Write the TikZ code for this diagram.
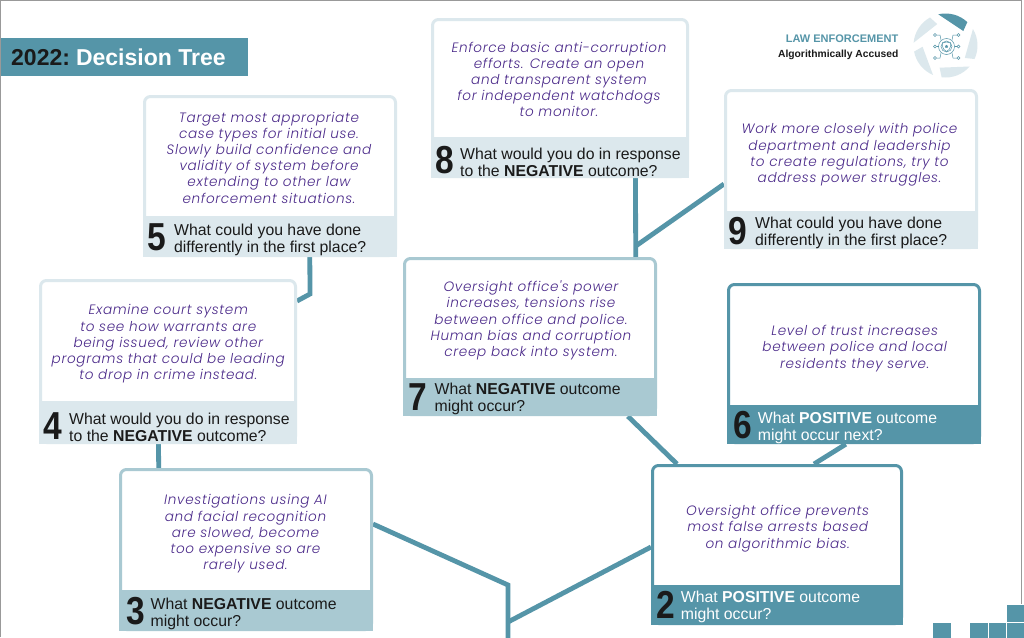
\documentclass[tikz,border=0pt]{standalone}
\usepackage{fontspec}
\setmainfont{Liberation Sans}
\newfontfamily\bodyfont{Poppins}[UprightFont=*-Light,ItalicFont=*-LightItalic,BoldFont=*-Regular,LetterSpace=4.8]
\usetikzlibrary{calc,backgrounds,shapes.geometric}
\definecolor{teal}{HTML}{5595A8}
\definecolor{midb}{HTML}{A9C9D2}
\definecolor{pale}{HTML}{DCE8ED}
\definecolor{ink}{HTML}{1A1A1A}
\definecolor{plum}{HTML}{4B2A8A}
\tikzset{
  x=1pt,y=-1pt,
  conn/.style={draw=teal,line width=4.8pt,line join=miter},
  card/.style={rectangle,rounded corners=6pt,line width=3pt,inner sep=0pt,fill=white},
  foot/.style={rectangle,inner sep=0pt},
  numlab/.style={font=\fontsize{39}{39}\selectfont\bfseries,text=ink,inner sep=0pt,anchor=center},
  qlab/.style={font=\fontsize{15.8}{17}\selectfont,text=ink,align=left,anchor=west,inner sep=0pt},
  qwhite/.style={qlab,text=white},
  bodylab/.style={font=\bodyfont\itshape\fontsize{13.6}{16.2}\selectfont,text=plum,align=center,inner sep=0pt,anchor=center},
  tile/.style={rectangle,fill=teal,draw=white,line width=0.4pt,inner sep=0pt,minimum width=18.5pt,minimum height=18.5pt,anchor=north west},
  logoline/.style={draw=teal,line width=0.5pt},
  logodot/.style={circle,draw=teal,line width=0.5pt,fill=white,inner sep=0pt,minimum size=3pt},
}
\newcommand{\numtxt}[1]{\scalebox{0.86}[1]{#1}}
% name, x1,y1,x2,ysplit,y2, border colour, foot colour
\newcommand{\qcard}[8]{%
  \node[card,draw=#7,minimum width={#4-#2-3},minimum height={#6-#3-3}] (#1) at ({(#2+#4)/2},{(#3+#6)/2}) {};
  \node[foot,fill=#8,minimum width={#4-#2},minimum height={#6-#5}] (#1f) at ({(#2+#4)/2},{(#5+#6)/2}) {};
}
\begin{document}
\begin{tikzpicture}
\useasboundingbox (0,0) rectangle (1024,637);
% title
\node[foot,fill=teal,minimum width=247pt,minimum height=38pt,anchor=north west] (title) at (1,38) {};
\node[anchor=west,inner sep=0pt,font=\fontsize{23}{26}\selectfont\bfseries] (titletext) at (11,57) {\textcolor{ink}{2022:}\hspace*{6pt}\textcolor{white}{Decision Tree}};
% logo text
\node[anchor=east,inner sep=0pt,font=\fontsize{11}{12}\selectfont\bfseries,text=teal] (law) at (898.5,39) {LAW ENFORCEMENT};
\node[anchor=east,inner sep=0pt,font=\fontsize{10.3}{12}\selectfont\bfseries,text=ink] (alg) at (898.5,55) {Algorithmically Accused};
% logo
\foreach \k/\c in {0/teal,1/pale,2/pale,3/pale,4/pale}{
  \begin{scope}[shift={(945.5,45.5)},x=1pt,y=1pt,rotate=-72*\k]
    \fill[\c] (103:32) arc[start angle=103,end angle=47,radius=32] -- (17.8,14.5) -- cycle;
  \end{scope}
}
\draw[logoline] (946.5,46.5) circle (8);
\draw[logoline] (946.5,46.5) circle (5.5);
\draw[logoline] (946.5,42) -- (950.5,43) -- (950.5,46.5) .. controls (950.5,49) and (948.5,50) .. (946.5,51.5) .. controls (944.5,50) and (942.5,49) .. (942.5,46.5) -- (942.5,43) -- cycle;
\node[star,star points=5,fill=teal,inner sep=0pt,minimum size=3.5pt] (logostar) at (946.5,46.5) {};
\node[logodot] (d1) at (935,35) {};
\node[logodot] (d2) at (935,46.5) {};
\node[logodot] (d3) at (935,58) {};
\node[logodot] (d4) at (958.5,35) {};
\node[logodot] (d5) at (958.5,46.5) {};
\node[logodot] (d6) at (958.5,58) {};
\draw[logoline] (d1) -- (940,35) -- (941,40);
\draw[logoline] (d2) -- (938.5,46.5);
\draw[logoline] (d3) -- (940,58) -- (941,53);
\draw[logoline] (d4) -- (953,35) -- (952,40);
\draw[logoline] (d5) -- (954.5,46.5);
\draw[logoline] (d6) -- (953,58) -- (952,53);
% cards
\qcard{c5}{143}{95}{397}{216}{257}{pale}{pale}
\node[numlab] (n5) at (157,237) {\numtxt{5}};
\node[qlab] (q5) at (174,240) {What could you have done\\differently in the first place?};
\node[bodylab] (b5) at (269,157.5) {Target most appropriate\\case types for initial use.\\Slowly build confidence and\\validity of system before\\extending to other law\\enforcement situations.};
\qcard{c4}{39}{279}{297}{401}{444}{pale}{pale}
\node[numlab] (n4) at (52.5,426) {\numtxt{4}};
\node[qlab] (q4) at (69,427) {What would you do in response\\to the \textbf{NEGATIVE} outcome?};
\node[bodylab] (b4) at (168.3,344) {Examine court system\\to see how warrants are\\being issued, review other\\programs that could be leading\\to drop in crime instead.};
\qcard{c3}{119}{468}{373}{590}{631}{midb}{midb}
\node[numlab] (n3) at (135.5,611.5) {\numtxt{3}};
\node[qlab] (q3) at (150.5,614) {What \textbf{NEGATIVE} outcome\\might occur?};
\node[bodylab] (b3) at (245.5,534) {Investigations using AI\\and facial recognition\\are slowed, become\\too expensive so are\\rarely used.};
\qcard{c7}{403}{257}{657}{378}{416}{midb}{midb}
\node[numlab] (n7) at (418,397) {\numtxt{7}};
\node[qlab] (q7) at (434.5,398.5) {What \textbf{NEGATIVE} outcome\\might occur?};
\node[bodylab] (b7) at (531,320.5) {Oversight office's power\\increases, tensions rise\\between office and police.\\Human bias and corruption\\creep back into system.};
\qcard{c8}{431}{18}{689}{137}{178}{pale}{pale}
\node[numlab] (n8) at (444.5,160) {\numtxt{8}};
\node[qlab] (q8) at (460,162) {What would you do in response\\to the \textbf{NEGATIVE} outcome?};
\node[bodylab] (b8) at (559,79.5) {Enforce basic anti-corruption\\efforts. Create an open\\and transparent system\\for independent watchdogs\\to monitor.};
\qcard{c9}{724}{89}{978}{211}{249}{pale}{pale}
\node[numlab] (n9) at (738,231) {\numtxt{9}};
\node[qlab] (q9) at (755,233) {What could you have done\\differently in the first place?};
\node[bodylab] (b9) at (849.5,155) {Work more closely with police\\department and leadership\\to create regulations, try to\\address power struggles.};
\qcard{c6}{727}{283}{981}{405}{444}{teal}{teal}
\node[numlab] (n6) at (743,425) {\numtxt{6}};
\node[qwhite] (q6) at (757.7,427.5) {What \textbf{POSITIVE} outcome\\might occur next?};
\node[bodylab] (b6) at (854.7,348.5) {Level of trust increases\\between police and local\\residents they serve.};
\qcard{c2}{651}{464}{903}{585}{625}{teal}{teal}
\node[numlab] (n2) at (665.8,605) {\numtxt{2}};
\node[qwhite] (q2) at (680.7,607) {What \textbf{POSITIVE} outcome\\might occur?};
\node[bodylab] (b2) at (777.7,528.5) {Oversight office prevents\\most false arrests based\\on algorithmic bias.};
% tiles
\node[tile] (t1) at (932,622) {};
\node[tile] (t2) at (969,622) {};
\node[tile] (t3) at (987.5,622) {};
\node[tile] (t4) at (1006,622) {};
\node[tile] (t5) at (1006,603.5) {};
% free connector points
\coordinate (bend54) at (310,294);
\coordinate (joint) at (508,585);
\coordinate (branch) at (508,622);
\coordinate (root) at (508,640);
% connectors and frame behind everything
\begin{scope}[on background layer]
\fill[white] (0,0) rectangle (1024,637);
\draw[gray!80,line width=1pt] (0.5,637) -- (0.5,0.5) -- (1021.5,0.5) -- (1021.5,637);
\draw[conn] ([xshift=167pt]c5f.south west) -- (bend54) -- ([yshift=-22pt]c4.north east);
\draw[conn] ([xshift=119.7pt]c4f.south west) -- ([xshift=39.7pt]c3.north west);
\draw[conn] ([yshift=-56pt]c3.north east) -- (joint) -- (root);
\draw[conn] (branch) -- ([yshift=-83pt]c2.north west);
\draw[conn] ([xshift=26pt]c2.north west) -- ([xshift=225pt]c7f.south west);
\draw[conn] ([xshift=163pt]c2.north west) -- ([xshift=119pt]c6f.south west);
\draw[conn] ([xshift=204.7pt]c8f.south west) -- ([xshift=232.7pt]c7.north west);
\draw[conn] ([xshift=204.7pt,yshift=-68pt]c8f.south west) -- ([yshift=-95pt]c9.north west);
\end{scope}
\end{tikzpicture}
\end{document}
